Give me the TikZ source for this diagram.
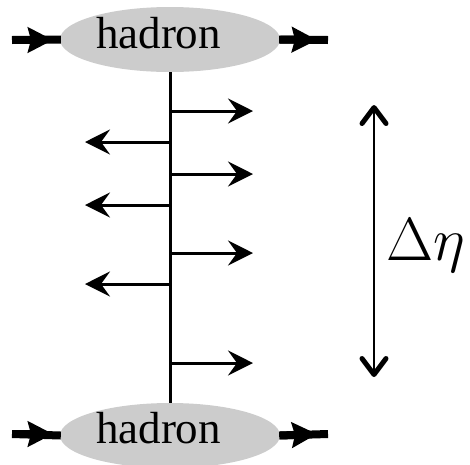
\RequirePackage{fix-cm}
\documentclass[tikz,border=0pt]{standalone}
\usepackage{fontspec}
\setmainfont{Liberation Serif}
\usetikzlibrary{arrows.meta, shapes.geometric}
\definecolor{hadgray}{HTML}{CCCCCC}

\begin{document}
\begin{tikzpicture}[x=1pt, y=-1pt,
  hadron/.style={ellipse, fill=hadgray, minimum width=220pt,
    minimum height=65pt, inner sep=0pt},
  hlabel/.style={anchor=base, inner sep=0pt,
    font=\fontsize{45}{45}\selectfont},
  beam/.style={line width=8pt},
  beamtip/.style={-{Stealth[length=25pt, width=25pt, inset=3pt]}, line width=8pt},
  axis/.style={line width=3pt},
  emit/.style={-{Stealth[length=25pt, width=25pt, inset=9pt]}, line width=3pt},
  barb/.tip={Straight Barb[length=16pt, width=24pt, line width=5pt 0, round]},
  span/.style={barb-barb, line width=2.5pt}
]
  \useasboundingbox (0,0) rectangle (470,464);

  \node[hadron] (hadtop) at (170,39.5) {};
  \node[hadron] (hadbot) at (170,435.5) {};
  \node[hlabel] (labtop) at (158.5,48) {hadron};
  \node[hlabel] (labbot) at (158.5,443) {hadron};

  % incoming and outgoing beams
  \coordinate (inT) at (12,40);    \coordinate (inTtip) at (53,40);
  \coordinate (outT) at (328,40);  \coordinate (outTtip) at (317,40);
  \coordinate (inB) at (12,434);   \coordinate (inBtip) at (53,434);
  \coordinate (outB) at (328,434); \coordinate (outBtip) at (317,434);
  \draw[beam] (inT) -- ([xshift=1pt]hadtop.west);
  \draw[beam] ([xshift=-1pt]hadtop.east) -- (outT);
  \draw[beam] (inB) -- ([xshift=1pt]hadbot.west);
  \draw[beam] ([xshift=-1pt]hadbot.east) -- (outB);
  \draw[beamtip] (inT) -- (inTtip);
  \draw[beamtip] (hadtop.east) -- (outTtip);
  \draw[beamtip] (inB) -- (inBtip);
  \draw[beamtip] (hadbot.east) -- (outBtip);

  \draw[axis] (hadtop.south) -- (hadbot.north);

  % emitted particles
  \foreach \y [count=\i] in {111,174,253,363}{
    \coordinate (ro\i) at (170,\y);
    \coordinate (rt\i) at (253,\y);
    \draw[emit] (ro\i) -- (rt\i);
  }
  \foreach \y [count=\i] in {142,205,284}{
    \coordinate (lo\i) at (170,\y);
    \coordinate (lt\i) at (85,\y);
    \draw[emit] (lo\i) -- (lt\i);
  }

  % rapidity gap
  \coordinate (gaptop) at (374,105);
  \coordinate (gapbot) at (374,377);
  \draw[span] (gaptop) -- (gapbot);
  \node[anchor=base west, inner sep=0pt, font=\fontsize{61}{61}\selectfont]
    (deta) at (386,260) {$\Delta\eta$};
\end{tikzpicture}
\end{document}
